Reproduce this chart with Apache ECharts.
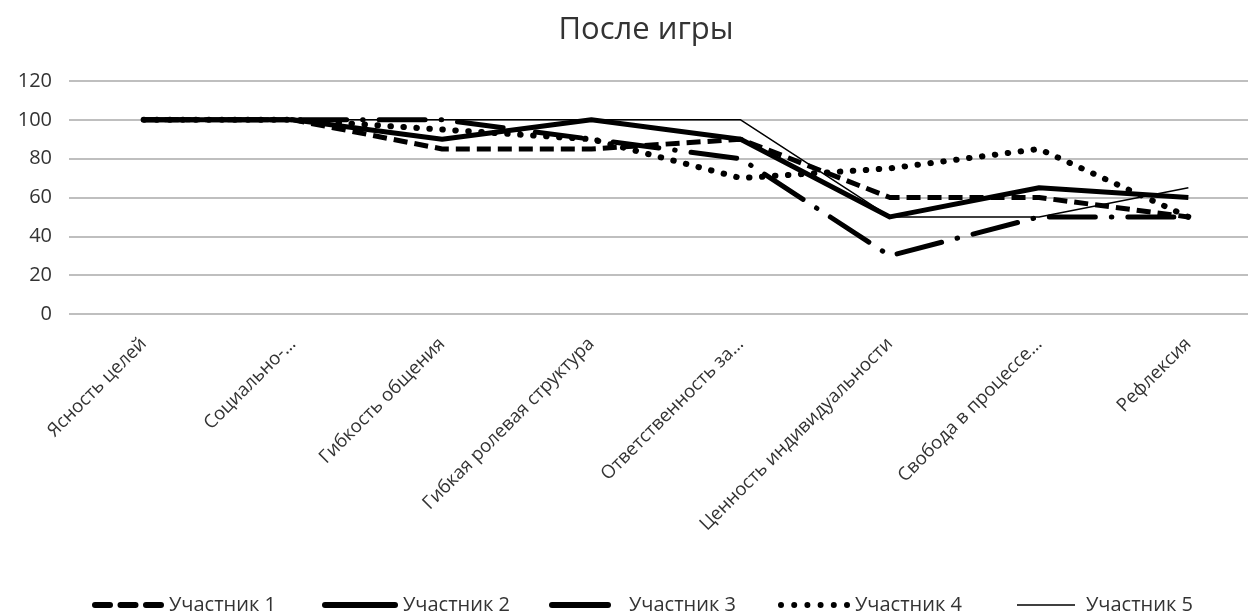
<!DOCTYPE html>
<html><head><meta charset="utf-8">
<script src="https://cdn.jsdelivr.net/npm/echarts@6/dist/echarts.min.js"></script>
<style>html,body{margin:0;padding:0;background:#fff}#c{width:1248px;height:614px}</style>
</head><body><div id="c"></div>
<script>
const categories = ["Ясность целей","Социально-…","Гибкость общения","Гибкая ролевая структура","Ответственность за…","Ценность индивидуальности","Свобода в процессе…","Рефлексия"];
const seriesNames = ["Участник 1","Участник 2","Участник 3","Участник 4","Участник 5"];
const p1 = [100,100,85,85,90,60,60,50];
const p2 = [100,100,90,100,90,50,65,60];
const p3 = [100,100,100,90,80,30,50,50];
const p4 = [100,100,95,90,70,75,85,50];
const p5 = [100,100,100,100,100,50,50,65];
const yTicks = {min:0,max:120,interval:20};

const font = "'Open Sans', 'Noto Sans', sans-serif";
const txt = '#333333';
const styles = [
  {width:5, type:[14,7], cap:'butt'},
  {width:5, type:'solid', cap:'butt'},
  {width:5, type:[46,16,0.5,16], cap:'round'},
  {width:6, type:[0.5,12.5], cap:'round'},
  {width:1.5, type:'solid', cap:'butt'}
];
function dot(cx){return 'M'+(cx-3)+',3A3,3 0 1,1 '+(cx+3)+',3A3,3 0 1,1 '+(cx-3)+',3Z';}
function pill(x0,x1){return 'M'+(x0+3)+',0H'+(x1-3)+'A3,3 0 0,1 '+(x1-3)+',6H'+(x0+3)+'A3,3 0 0,1 '+(x0+3)+',0Z';}
const legendDefs = [
  {left:92, w:72, h:6, icon:'path://'+pill(0,21)+pill(25.5,46.5)+pill(51,72), gap:0},
  {left:322, w:76, h:6, icon:'path://'+pill(0,76), gap:0},
  {left:549, w:62, h:6, icon:'path://'+pill(0,62), gap:13},
  {left:778, w:72, h:6, icon:'path://'+[3,16.2,29.4,42.6,55.8,69].map(dot).join(''), gap:0},
  {left:1017, w:58, h:1.5, icon:'rect', gap:6}
];
const data = [p1,p2,p3,p4,p5];
const chart = echarts.init(document.getElementById('c'), null, {renderer:'canvas'});
chart.setOption({
  animation:false,
  backgroundColor:'#fff',
  title:{text:'После игры', left:641, textAlign:'center', top:10, textStyle:{fontFamily:font, fontSize:31, fontWeight:'normal', color:txt}},
  grid:{left:69, right:-15, top:81, bottom:300, containLabel:false, outerBoundsMode:'none'},
  legend: legendDefs.map((L,i)=>({
    left:L.left, top:595, itemWidth:L.w, itemHeight:L.h, padding:0,
    data:[{name:seriesNames[i], icon:L.icon}],
    textStyle:{fontFamily:font, fontSize:20, color:txt, padding:[0,0,0,L.gap]}
  })),
  xAxis:{type:'category', data:categories, boundaryGap:true,
    axisLine:{show:false}, axisTick:{show:false},
    axisLabel:{rotate:45, interval:0, margin:27, fontFamily:font, fontSize:18.5, color:txt}},
  yAxis:{type:'value', min:yTicks.min, max:yTicks.max, interval:yTicks.interval,
    axisLine:{show:false}, axisTick:{show:false},
    axisLabel:{fontFamily:font, fontSize:20, color:txt, margin:17},
    splitLine:{lineStyle:{color:'#bfbfbf', width:2}}},
  series: data.map((d,i)=>({
    name:seriesNames[i], type:'line', data:d, symbol:'none', smooth:false,
    lineStyle:{color:'#000', width:styles[i].width, type:styles[i].type, cap:styles[i].cap, join:'round'},
    itemStyle:{color:'#000'}
  }))
});
</script></body></html>
